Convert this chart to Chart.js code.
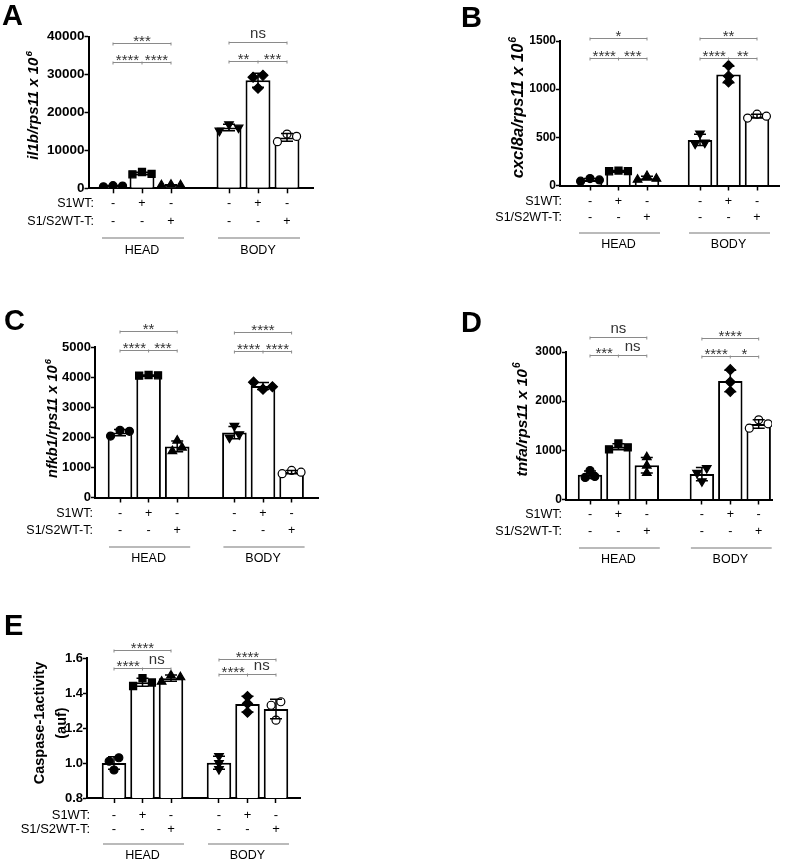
<!DOCTYPE html>
<html>
<head>
<meta charset="utf-8">
<script src="https://cdn.jsdelivr.net/npm/chart.js@4"></script>
<style>
  html, body { margin: 0; padding: 0; background: #fff; }
  #wrap { position: relative; width: 787px; height: 861px; }
  #wrap canvas { position: absolute; left: 0; top: 0; }
</style>
</head>
<body>
<div id="wrap">
  <canvas id="chartA" width="787" height="861"></canvas>
  <canvas id="chartB" width="787" height="861"></canvas>
  <canvas id="chartC" width="787" height="861"></canvas>
  <canvas id="chartD" width="787" height="861"></canvas>
  <canvas id="chartE" width="787" height="861"></canvas>
</div>
<script>
// Data (bar order: head -, head S1WT, head S1/S2WT-T, body -, body S1WT, body S1/S2WT-T)
const groupNames = ["HEAD", "BODY"];
const rowNames = ["S1WT:", "S1/S2WT-T:"];
const s1wtSigns = ["-", "+", "-", "-", "+", "-"];
const s1s2Signs = ["-", "-", "+", "-", "-", "+"];

const il1bReps = [[400, 700, 600], [3700, 4300, 3800], [800, 950, 800], [15200, 16900, 16000], [29300, 26400, 29800], [12300, 14300, 13700]];
const il1bTicks = [0, 10000, 20000, 30000, 40000];
const il1bSig = ["***", "****", "****", "ns", "**", "***"];

const cxcl8aReps = [[45, 72, 58], [148, 155, 150], [60, 98, 70], [540, 435, 445], [1245, 1075, 1135], [700, 740, 720]];
const cxcl8aTicks = [0, 500, 1000, 1500];
const cxcl8aSig = ["*", "****", "***", "**", "****", "**"];

const nfkb1Reps = [[2040, 2230, 2200], [4050, 4070, 4060], [1540, 1890, 1660], [2380, 1990, 2100], [3830, 3600, 3680], [790, 900, 840]];
const nfkb1Ticks = [0, 1000, 2000, 3000, 4000, 5000];
const nfkb1Sig = ["**", "****", "***", "****", "****", "****"];

const tnfaReps = [[450, 590, 470], [1020, 1140, 1060], [860, 540, 690], [540, 370, 640], [2640, 2390, 2200], [1450, 1620, 1540]];
const tnfaTicks = [0, 1000, 2000, 3000];
const tnfaSig = ["ns", "***", "ns", "****", "****", "*"];

const caspReps = [[1.01, 0.96, 1.03], [1.44, 1.485, 1.46], [1.465, 1.50, 1.49], [1.04, 1.0, 0.965], [1.38, 1.34, 1.29], [1.33, 1.35, 1.245]];
const caspTicks = [0.8, 1.0, 1.2, 1.4, 1.6];
const caspSig = ["****", "****", "ns", "****", "****", "ns"];

const fontFam = "'Liberation Sans', Arial, sans-serif";

// marker per bar
const markers = [
  { style: "circle", r: 4, rot: 0, fill: "#000" },
  { style: "rect", r: 5, rot: 0, fill: "#000" },
  { style: "triangle", r: 5, rot: 0, fill: "#000" },
  { style: "triangle", r: 5, rot: 180, fill: "#000" },
  { style: "rectRot", r: 5, rot: 0, fill: "#000" },
  { style: "circle", r: 4, rot: 0, fill: "#fff" },
];

// layout of each panel (page pixels)
const panels = [
  { id: "chartA", letter: "A", letterX: 2, letterY: 25, reps: il1bReps, ticks: il1bTicks, sig: il1bSig, dec: 0,
    title: ["il1b/rps11 x 10", "6"], italic: true, titleX: [33], titleY: 106, titleSize: 15, tickSize: 13.5,
    axisX: 88.5, axisTop: 36.7, axisZero: 188.3, axisRight: 313, firstX: 113, step: 29, bodyAt: 5,
    sigLevels: [[38400, 33300], [38700, 33600]],
    rowY: [204, 222], rowRight: 94, rowSize: 12.5, lineY: 238, groupY: 251 },
  { id: "chartB", letter: "B", letterX: 461, letterY: 27, reps: cxcl8aReps, ticks: cxcl8aTicks, sig: cxcl8aSig, dec: 0,
    title: ["cxcl8a/rps11 x 10", "6"], italic: true, titleX: [517], titleY: 108, titleSize: 16.5, tickSize: 12,
    axisX: 560, axisTop: 41, axisZero: 185.5, axisRight: 779, firstX: 590, step: 28.5, bodyAt: 4.86,
    sigLevels: [[1527, 1321], [1527, 1321]],
    rowY: [202, 218], rowRight: 562, rowSize: 12.5, lineY: 233, groupY: 245 },
  { id: "chartC", letter: "C", letterX: 4, letterY: 330, reps: nfkb1Reps, ticks: nfkb1Ticks, sig: nfkb1Sig, dec: 0,
    title: ["nfkb1/rps11 x 10", "6"], italic: true, titleX: [52], titleY: 419, titleSize: 14.5, tickSize: 13,
    axisX: 95, axisTop: 347, axisZero: 497.5, axisRight: 318, firstX: 120, step: 28.6, bodyAt: 5,
    sigLevels: [[5528, 4890], [5495, 4868]],
    rowY: [514, 531], rowRight: 93, rowSize: 12.5, lineY: 547, groupY: 559 },
  { id: "chartD", letter: "D", letterX: 461, letterY: 332, reps: tnfaReps, ticks: tnfaTicks, sig: tnfaSig, dec: 0,
    title: ["tnfa/rps11 x 10", "6"], italic: true, titleX: [521], titleY: 420, titleSize: 15.5, tickSize: 12,
    axisX: 566, axisTop: 352, axisZero: 499.5, axisRight: 772, firstX: 590, step: 28.4, bodyAt: 4.94,
    sigLevels: [[3303, 2933], [3290, 2912]],
    rowY: [515, 532], rowRight: 562, rowSize: 12.5, lineY: 548, groupY: 560 },
  { id: "chartE", letter: "E", letterX: 4, letterY: 635, reps: caspReps, ticks: caspTicks, sig: caspSig, dec: 1,
    title: ["Caspase-1activity", "(auf)"], italic: false, titleX: [40, 62], titleY: 723, titleSize: 14.5, tickSize: 13,
    axisX: 87, axisTop: 658, axisZero: 798, axisRight: 300, firstX: 114, step: 28.5, bodyAt: 4.684,
    sigLevels: [[1.644, 1.545], [1.594, 1.507]],
    rowY: [815, 829], rowRight: 90, rowSize: 13, lineY: 844, groupY: 856 },
];

// spread replicates sideways when they sit at nearly the same height
function spread(vals, thr) {
  const idx = vals.map((v, i) => i).sort((a, b) => vals[a] - vals[b]);
  const out = new Array(vals.length).fill(0);
  let cluster = [idx[0]];
  const flush = () => {
    const c = cluster.slice().sort((a, b) => a - b);
    c.forEach((j, n) => { out[j] = c.length === 1 ? 0 : (n - (c.length - 1) / 2) * (c.length === 2 ? 0.34 : 0.33); });
  };
  for (let n = 1; n < idx.length; n++) {
    if (vals[idx[n]] - vals[idx[n - 1]] < thr) cluster.push(idx[n]);
    else { flush(); cluster = [idx[n]]; }
  }
  flush();
  return out;
}

function makeChart(p) {
  const pos = [1, 2, 3, p.bodyAt, p.bodyAt + 1, p.bodyAt + 2];
  const means = p.reps.map(r => r.reduce((a, b) => a + b, 0) / r.length);
  const sds = p.reps.map((r, i) => Math.sqrt(r.reduce((a, v) => a + (v - means[i]) ** 2, 0) / (r.length - 1)));
  const yMin = p.ticks[0], yMax = p.ticks[p.ticks.length - 1];
  const xMin = 1 - (p.firstX - p.axisX) / p.step;
  const xMax = xMin + (p.axisRight - p.axisX) / p.step;
  const yAxisW = 60, xAxisH = 10;

  const datasets = [{
    type: "bar",
    data: pos.map((x, i) => ({ x: x, y: means[i] })),
    backgroundColor: "#fff",
    borderColor: "#000",
    borderWidth: 2,
    barPercentage: 0.86,
    categoryPercentage: 1,
    order: 2,
  }];
  p.reps.forEach((r, i) => {
    const off = spread(r, (yMax - yMin) * 0.035);
    const m = markers[i];
    datasets.push({
      type: "scatter",
      data: r.map((v, j) => ({ x: pos[i] + off[j], y: v })),
      pointStyle: m.style,
      pointRadius: m.r,
      rotation: m.rot,
      backgroundColor: m.fill,
      borderColor: "#000",
      borderWidth: 1.2,
      order: 1,
    });
  });

  const decor = {
    id: "decor",
    afterDatasetsDraw(chart) {
      const ctx = chart.ctx, xs = chart.scales.x, ys = chart.scales.y;
      // error bars (mean +/- SD)
      ctx.save();
      ctx.strokeStyle = "#000";
      ctx.lineWidth = 1.5;
      pos.forEach((x, i) => {
        const px = xs.getPixelForValue(x);
        const y1 = ys.getPixelForValue(means[i] + sds[i]);
        const y2 = ys.getPixelForValue(means[i] - sds[i]);
        ctx.beginPath();
        ctx.moveTo(px, y1); ctx.lineTo(px, y2);
        ctx.moveTo(px - 6, y1); ctx.lineTo(px + 6, y1);
        ctx.moveTo(px - 6, y2); ctx.lineTo(px + 6, y2);
        ctx.stroke();
      });
      ctx.restore();
    },
    afterDraw(chart) {
      const ctx = chart.ctx, xs = chart.scales.x, ys = chart.scales.y;
      ctx.save();

      // significance brackets
      const bracket = (xa, xb, y, marks) => {
        ctx.strokeStyle = "#8a8a8a";
        ctx.lineWidth = 1;
        ctx.beginPath();
        ctx.moveTo(xa, y + 0.5); ctx.lineTo(xb, y + 0.5);
        marks.forEach(mx => { ctx.moveTo(mx, y - 0.5); ctx.lineTo(mx, y + 2.5); });
        ctx.stroke();
      };
      const sigText = (txt, x, y) => {
        ctx.fillStyle = "#333";
        ctx.textAlign = "center";
        ctx.textBaseline = "alphabetic";
        ctx.font = "15px " + fontFam;
        ctx.fillText(txt, x, txt === "ns" ? y - 4 : y + 2.5);
      };
      [0, 1].forEach(g => {
        const b = g * 3;
        const x0 = xs.getPixelForValue(pos[b]);
        const x1 = xs.getPixelForValue(pos[b + 1]);
        const x2 = xs.getPixelForValue(pos[b + 2]);
        const yTop = Math.round(ys.getPixelForValue(p.sigLevels[g][0]));
        const yLow = Math.round(ys.getPixelForValue(p.sigLevels[g][1]));
        bracket(x0, x2, yTop, [x0, x2]);
        bracket(x0, x2, yLow, [x0, x1, x2]);
        sigText(p.sig[b], (x0 + x2) / 2, yTop);
        sigText(p.sig[b + 1], (x0 + x1) / 2, yLow);
        sigText(p.sig[b + 2], (x1 + x2) / 2, yLow);
      });

      // condition rows
      ctx.fillStyle = "#000";
      ctx.font = p.rowSize + "px " + fontFam;
      ctx.textBaseline = "middle";
      ctx.textAlign = "right";
      rowNames.forEach((t, r) => ctx.fillText(t, p.rowRight, p.rowY[r]));
      ctx.textAlign = "center";
      pos.forEach((x, i) => {
        const px = xs.getPixelForValue(x);
        ctx.fillText(s1wtSigns[i], px, p.rowY[0]);
        ctx.fillText(s1s2Signs[i], px, p.rowY[1]);
      });

      // group lines + names
      ctx.strokeStyle = "#777";
      ctx.lineWidth = 1.2;
      groupNames.forEach((name, g) => {
        const xa = xs.getPixelForValue(pos[g * 3]) - 11;
        const xb = xs.getPixelForValue(pos[g * 3 + 2]) + 13;
        ctx.beginPath();
        ctx.moveTo(xa, p.lineY); ctx.lineTo(xb, p.lineY);
        ctx.stroke();
        ctx.font = "12.5px " + fontFam;
        ctx.fillText(name, xs.getPixelForValue(pos[g * 3 + 1]), p.groupY);
      });

      // y title
      if (p.italic) {
        ctx.save();
        ctx.translate(p.titleX[0], p.titleY);
        ctx.rotate(-Math.PI / 2);
        const mainFont = "italic bold " + p.titleSize + "px " + fontFam;
        const supFont = "italic bold " + (p.titleSize * 0.65).toFixed(1) + "px " + fontFam;
        ctx.font = mainFont;
        const w1 = ctx.measureText(p.title[0]).width;
        ctx.font = supFont;
        const w2 = ctx.measureText(p.title[1]).width;
        const start = -(w1 + w2) / 2;
        ctx.textAlign = "left";
        ctx.textBaseline = "alphabetic";
        ctx.font = mainFont;
        ctx.fillText(p.title[0], start, p.titleSize * 0.36);
        ctx.font = supFont;
        ctx.fillText(p.title[1], start + w1 + 1, p.titleSize * 0.36 - p.titleSize * 0.45);
        ctx.restore();
      } else {
        p.title.forEach((t, k) => {
          ctx.save();
          ctx.translate(p.titleX[k], p.titleY);
          ctx.rotate(-Math.PI / 2);
          ctx.font = "bold " + p.titleSize + "px " + fontFam;
          ctx.textAlign = "center";
          ctx.textBaseline = "middle";
          ctx.fillText(t, 0, 0);
          ctx.restore();
        });
      }

      // panel letter
      ctx.font = "bold 29px " + fontFam;
      ctx.textAlign = "left";
      ctx.textBaseline = "alphabetic";
      ctx.fillText(p.letter, p.letterX, p.letterY);
      ctx.restore();
    }
  };

  return new Chart(document.getElementById(p.id), {
    type: "bar",
    data: { datasets: datasets },
    plugins: [decor],
    options: {
      responsive: false,
      animation: false,
      devicePixelRatio: 1,
      layout: {
        padding: {
          left: p.axisX - yAxisW,
          top: p.axisTop,
          right: 787 - p.axisRight,
          bottom: 861 - p.axisZero - xAxisH,
        },
      },
      plugins: { legend: { display: false }, tooltip: { enabled: false } },
      scales: {
        x: {
          type: "linear",
          min: xMin,
          max: xMax,
          offset: false,
          afterBuildTicks: s => { s.ticks = pos.map(v => ({ value: v })); },
          afterFit: s => { s.height = xAxisH; },
          ticks: { display: false },
          grid: { offset: false, drawOnChartArea: false, tickLength: 5, tickColor: "#000", tickWidth: 1.5 },
          border: { color: "#000", width: 2 },
        },
        y: {
          type: "linear",
          min: yMin,
          max: yMax,
          afterBuildTicks: s => { s.ticks = p.ticks.map(v => ({ value: v })); },
          afterFit: s => { s.width = yAxisW; },
          ticks: {
            color: "#000",
            padding: 0,
            font: { family: fontFam, size: p.tickSize, weight: "bold" },
            callback: v => p.dec ? Number(v).toFixed(p.dec) : String(v),
          },
          grid: { drawOnChartArea: false, tickLength: 4, tickColor: "#000", tickWidth: 1.5 },
          border: { color: "#000", width: 2 },
        },
      },
    },
  });
}

panels.forEach(makeChart);
</script>
</body>
</html>
